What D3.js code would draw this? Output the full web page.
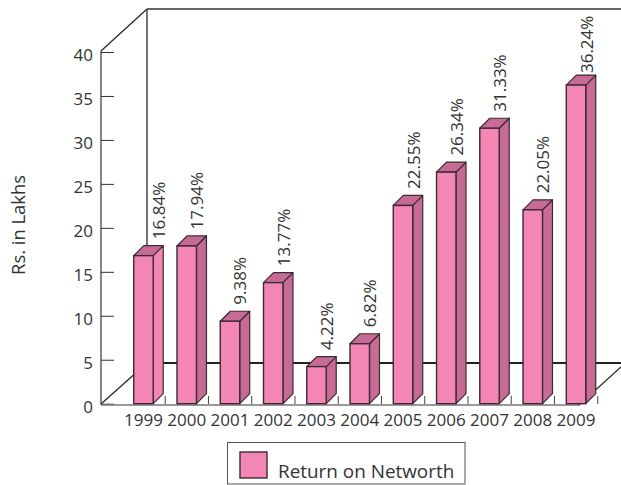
<!DOCTYPE html>
<html>
<head>
<meta charset="utf-8">
<script src="https://cdn.jsdelivr.net/npm/d3@7/dist/d3.min.js"></script>
<style>
html,body{margin:0;padding:0;background:#fff}
svg{display:block}
text{font-family:"Open Sans","Noto Sans",sans-serif;fill:#333}
</style>
</head>
<body>
<svg id="chart" width="621" height="485"></svg>
<script>
const years = ["1999","2000","2001","2002","2003","2004","2005","2006","2007","2008","2009"];
const returns = [16.84,17.94,9.38,13.77,4.22,6.82,22.55,26.34,31.33,22.05,36.24];
const yTicks = [0,5,10,15,20,25,30,35,40];
const seriesName = "Return on Networth";
const yTitle = "Rs. in Lakhs";

const svg = d3.select("#chart");
const y = d3.scaleLinear().domain([0,40]).range([403.7,52]);
const x = d3.scaleBand().domain(years).range([122.5,597]).paddingInner(0.55).paddingOuter(0.26);
const depth = 10, wallDx = 46;
const axisX = 101, baseY = 405, faceCol = "#f486b6", sideCol = "#c76b96", ink = "#3b2a33";
const fontStack = '"Open Sans","Noto Sans",sans-serif';

// back wall and floor edges
const walls = svg.append("g").attr("fill","none");
walls.append("line").attr("x1",axisX).attr("y1",y(40)-1).attr("x2",axisX+wallDx).attr("y2",9).attr("stroke","#222").attr("stroke-width",1.2);
walls.append("line").attr("x1",axisX+wallDx).attr("y1",9).attr("x2",621).attr("y2",9).attr("stroke","#666").attr("stroke-width",2);
walls.append("line").attr("x1",axisX+wallDx).attr("y1",9).attr("x2",axisX+wallDx).attr("y2",363).attr("stroke","#444").attr("stroke-width",1.5);
walls.append("line").attr("x1",axisX+wallDx).attr("y1",363).attr("x2",621).attr("y2",363).attr("stroke","#222").attr("stroke-width",1.8);
walls.append("line").attr("x1",axisX).attr("y1",baseY-1).attr("x2",axisX+wallDx).attr("y2",363).attr("stroke","#222").attr("stroke-width",1.2);
walls.append("line").attr("x1",579).attr("y1",baseY).attr("x2",621).attr("y2",367).attr("stroke","#222").attr("stroke-width",1.2);

// value axis, ticks point into the plot
const yAxis = svg.append("g").attr("transform",`translate(${axisX},0)`)
  .call(d3.axisLeft(y).tickValues(yTicks).tickSize(-13).tickPadding(8));
yAxis.select(".domain").attr("stroke","#444").attr("stroke-width",1.3).attr("d",`M0,${y(40)-1}V${baseY}`);
yAxis.selectAll(".tick line").attr("stroke","#333").attr("stroke-width",1);
yAxis.selectAll("text").attr("font-size",17).attr("font-family",fontStack).attr("dy","0.5em");

// category axis: baseline, short ticks between bars, year labels
const xAxis = svg.append("g").attr("transform",`translate(0,${baseY})`)
  .call(d3.axisBottom(x).tickSize(0).tickPadding(9));
xAxis.select(".domain").attr("stroke","#777").attr("stroke-width",1.6).attr("d",`M${axisX},0H580`);
xAxis.selectAll("text").attr("font-size",17).attr("font-family",fontStack);
svg.append("g").selectAll("line").data(years).join("line")
  .attr("x1",d=>x(d)+x.bandwidth()+12).attr("x2",d=>x(d)+x.bandwidth()+12)
  .attr("y1",baseY-9).attr("y2",baseY-1).attr("stroke","#444").attr("stroke-width",1);

// extruded bars
const bars = svg.append("g").selectAll("g").data(years).join("g");
const val = d=>returns[years.indexOf(d)];
bars.append("path")
  .attr("d",d=>{const l=x(d)+x.bandwidth();const t=y(val(d));const b=y(0);
    return `M${l},${t}L${l+depth},${t-depth}V${b-depth}L${l},${b}Z`;})
  .attr("fill",(d,i)=>i===0?faceCol:sideCol).attr("stroke",ink).attr("stroke-width",1.2).attr("stroke-linejoin","round");
bars.append("path")
  .attr("d",d=>{const l=x(d),r=l+x.bandwidth(),t=y(val(d));
    return `M${l},${t}L${l+depth},${t-depth}H${r+depth}L${r},${t}Z`;})
  .attr("fill",sideCol).attr("stroke",ink).attr("stroke-width",1.2).attr("stroke-linejoin","round");
bars.append("rect")
  .attr("x",d=>x(d)).attr("y",d=>y(val(d)))
  .attr("width",x.bandwidth()).attr("height",d=>y(0)-y(val(d)))
  .attr("fill",faceCol).attr("stroke",ink).attr("stroke-width",1.4);

// rotated percentage labels above each bar; the first and last sit slightly apart from the rest
const labelDx = (d,i)=>i===0?22:16.5;
const labelDy = (d,i)=>i===years.length-1?12:16.5;
bars.append("text")
  .attr("transform",(d,i)=>`translate(${x(d)+x.bandwidth()/2+labelDx(d,i)},${y(val(d))-labelDy(d,i)}) rotate(-90)`)
  .attr("font-size",17)
  .text(d=>val(d).toFixed(2)+"%");

// axis title
svg.append("text").attr("transform","translate(25,225) rotate(-90)")
  .attr("text-anchor","middle").attr("font-size",18.4).text(yTitle);

// legend
const legend = svg.append("g");
legend.append("rect").attr("x",227.5).attr("y",442.5).attr("width",237.5).attr("height",41.5)
  .attr("fill","#fff").attr("stroke","#555").attr("stroke-width",1);
legend.append("rect").attr("x",240).attr("y",452).attr("width",27).attr("height",26)
  .attr("fill",faceCol).attr("stroke",ink).attr("stroke-width",1.4);
legend.append("text").attr("x",278).attr("y",478).attr("font-size",18.9).text(seriesName);
</script>
</body>
</html>
